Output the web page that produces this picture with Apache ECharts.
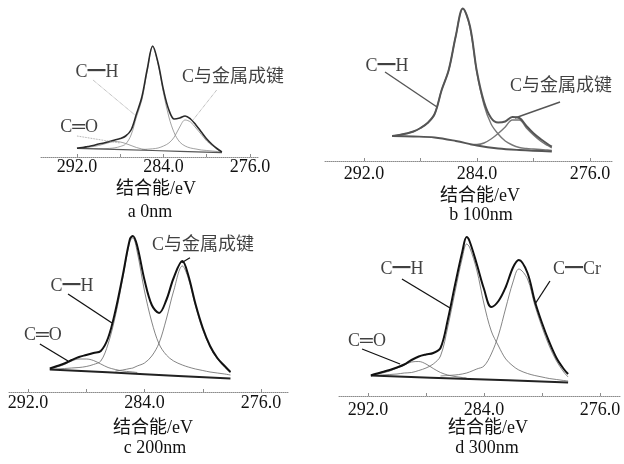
<!DOCTYPE html>
<html><head><meta charset="utf-8">
<script src="https://cdn.jsdelivr.net/npm/echarts@6/dist/echarts.min.js"></script>
<style>html,body{margin:0;padding:0;background:#fff}#c{width:624px;height:464px}</style>
</head><body><div id="c"></div>
<script>
// ---------- Data (binding energy in eV, intensity in arbitrary units) ----------
// Panel a: 0 nm
const energyA   = [292, 291.5, 291, 290.5, 290, 289.5, 289, 288.5, 288, 287.5, 287, 286.5, 286, 285.5, 285, 284.5, 284, 283.5, 283, 282.5, 282, 281.5, 281, 280.5, 280, 279.5, 279, 278.6];
const envelopeA = [8.7, 9.5, 10.5, 11.5, 13, 14, 15.5, 17, 18.5, 21, 27, 43, 60, 88, 111, 94, 67, 47, 38, 39, 41, 38, 32, 25, 18, 12.5, 8, 5];
const chA       = [8.7, 8.6, 8.5, 8.4, 8.3, 8.3, 8.6, 9.2, 10.5, 13, 22, 40, 57, 86, 110, 93, 64, 40, 24, 15, 11, 9, 8, 7, 6.5, 6, 5.5, 4.8];
const metalA    = [null, null, null, null, null, null, null, null, null, null, null, null, 7.5, 7.8, 8.2, 9, 11, 14, 20, 30, 37, 35, 29, 22.5, 16, 11.5, 7.5, 5];
const coA       = [8.7, 9, 9.7, 10.5, 11.5, 13, 14.5, 15.5, 15, 13.5, 11.5, 9.5, 8, 7.2, null, null, null, null, null, null, null, null, null, null, null, null, null, null];
const bgEnergyA = [292, 285, 278.6];
const bgA       = [8.7, 6.5, 4.3];

// Panel b: 100 nm
const energyB   = [290, 289.5, 289, 288.5, 288, 287.5, 287, 286.5, 286, 285.5, 285, 284.5, 284, 283.5, 283, 282.5, 282, 281.5, 281, 280.5, 280, 279.5, 279, 278.7];
const envelopeB = [25, 26, 27.5, 29.5, 33, 38, 47, 71, 91, 125, 152.5, 135, 89, 59, 43, 38.5, 39.5, 44, 43, 35, 27.7, 22, 17, 14.3];
const chB       = [25, 26, 27.5, 29.5, 33, 38, 47, 71, 91, 125, 152.5, 134, 88, 56, 37, 27, 20, 16, 13.5, 12.5, 12, 11.5, 11, 10.5];
const metalB    = [null, null, null, null, null, null, null, null, null, null, null, 16.5, 16.5, 18, 22, 27.5, 34, 41, 41, 33, 26, 20, 15.5, 13];
const bgEnergyB = [290, 288.5, 287, 285.5, 284, 282.5, 281, 278.7];
const bgB       = [25, 24.5, 23.5, 20, 15.5, 12.5, 11, 9.5];

// Panel c: 200 nm
const energyC   = [290.5, 290, 289.5, 289, 288.5, 288, 287.5, 287, 286.5, 286, 285.5, 285, 284.8, 284.5, 284, 283.5, 283, 282.5, 282, 281.4, 281, 280.5, 280, 279.5, 279, 278.5, 278.1];
const envelopeC = [23.5, 26, 28.5, 32, 35, 37, 39, 41, 54, 81, 116, 153, 156, 146, 112, 87, 79, 92, 114, 131, 117, 88, 64, 46, 34, 26, 20];
const chC       = [22.5, 23, 23.5, 24, 24.5, 25.5, 27.5, 31, 48, 76, 113, 151, 154, 140, 101, 70, 48, 37, 31, 27, 25, 23, 21.5, 20, 19, 18, 17];
const metalC    = [null, null, null, null, null, null, null, null, null, 21, 22, 23.5, 24, 26, 29, 36, 49, 73, 101, 126, 114, 86, 62, 45, 33, 25, 19.5];
const coC       = [23, 25, 27.5, 31, 33, 33, 31.5, 28, 24.5, 22.5, 21, 20.3, 20, 19.5, null, null, null, null, null, null, null, null, null, null, null, null, null];
const bgEnergyC = [290.5, 284, 278.1];
const bgC       = [22.5, 17.8, 13.5];

// Panel d: 300 nm
const energyD   = [291.8, 291.5, 291, 290.5, 290, 289.5, 289, 288.5, 288, 287.5, 287, 286.5, 286, 285.5, 285.2, 285, 284.5, 284, 283.5, 283, 282.5, 282, 281.6, 281, 280.5, 280, 279.5, 279, 278.5, 278.2];
const envelopeD = [20.5, 22, 24, 26, 28.5, 31.5, 36, 39.5, 41.5, 43, 48, 76, 111, 144, 159, 155, 132, 107, 89, 95, 109, 128.5, 136, 123, 95, 73, 54, 38, 27, 22];
const chD       = [20.5, 20.5, 21, 21.5, 22, 23, 23.5, 25.5, 28, 32, 40, 69, 104, 138, 152, 149, 126, 92, 65, 50, 37, 30, 26, 22.5, 20.5, 19, 17.5, 16.5, 15.5, 15];
const metalD    = [null, null, null, null, null, null, null, null, null, null, 20, 20.5, 21, 22, 23, 24, 27, 30, 42, 61, 88, 114, 127, 117, 91, 69, 50, 35, 24, 19];
const coD       = [20.5, 21.5, 23, 25, 28, 31, 34, 34.5, 32, 27.5, 23.5, 21, 19.5, 18.5, 18, null, null, null, null, null, null, null, null, null, null, null, null, null, null, null];
const bgEnergyD = [291.8, 285, 278.2];
const bgD       = [20.5, 17, 13.5];

// Axis ticks / texts
const tickValues  = [292, 288, 284, 280, 276];
const labelValues = [292, 284, 276];
const axisTitle   = '结合能/eV';
const panelTitles = ['a 0nm', 'b 100nm', 'c 200nm', 'd 300nm'];

// ---------- Layout & styles ----------
const FONT = "'Liberation Serif', 'Noto Sans CJK SC', serif";
const TEXT = '#111';
const panels = [
  { e: energyA, env: envelopeA, ch: chA, metal: metalA, co: coA, bgE: bgEnergyA, bg: bgA,
    grid: { left: 40, width: 218, top: 7, height: 150 }, xMin: 275.26, xMax: 295.42, yMax: 150, labelMargin: 1,
    title: [156, 189], sub: [150, 212],
    envStyle: { color: '#2a2a2a', width: 1.6 }, compStyle: { color: '#8a8a8a', width: 0.8, type: 'solid' },
    bgStyle: { color: '#555', width: 1.2 }, leadStyle: { color: '#8a8a8a', width: 0.8, type: 'dotted' },
    ann: [
      { t: 'C━H', at: [290.15, 85], from: [290.52, 77], to: [286.64, 42] },
      { t: 'C═O', at: [291.8, 30], from: [292, 21], to: [288.02, 14] },
      { t: 'C与金属成键', at: [277.57, 80], from: [279.08, 67], to: [281.27, 37] }
    ] },
  { e: energyB, env: envelopeB, ch: chB, metal: metalB, co: null, bgE: bgEnergyB, bg: bgB,
    grid: { left: 325, width: 287, top: 1, height: 160 }, xMin: 274.44, xMax: 294.76, yMax: 160, labelMargin: 4,
    title: [480, 196], sub: [481, 215],
    envStyle: { color: '#555', width: 2 }, compStyle: { color: '#777', width: 1.4, type: 'solid' },
    bgStyle: { color: '#555', width: 1.8 }, leadStyle: { color: '#555', width: 1.4, type: 'solid' },
    ann: [
      { t: 'C━H', at: [290.37, 95], from: [290.51, 89], to: [286.83, 54] },
      { t: 'C与金属成键', at: [278.05, 75], from: [278.12, 59], to: [281.31, 43] }
    ] },
  { e: energyC, env: envelopeC, ch: chC, metal: metalC, co: coC, bgE: bgEnergyC, bg: bgC,
    grid: { left: 8, width: 280, top: 232, height: 160 }, xMin: 274.15, xMax: 293.37, yMax: 160, labelMargin: 2,
    title: [153, 428], sub: [155, 448],
    envStyle: { color: '#111', width: 2 }, compStyle: { color: '#666', width: 0.8, type: 'solid' },
    bgStyle: { color: '#222', width: 2 }, leadStyle: { color: '#111', width: 1.3, type: 'solid' },
    ann: [
      { t: 'C与金属成键', at: [279.98, 147], from: [281.45, 129.3], to: [280.88, 134.3] },
      { t: 'C━H', at: [288.98, 106], from: [289.25, 98], to: [286.23, 69] },
      { t: 'C═O', at: [290.97, 57], from: [291.18, 48], to: [289.25, 31] }
    ] },
  { e: energyD, env: envelopeD, ch: chD, metal: metalD, co: coD, bgE: bgEnergyD, bg: bgD,
    grid: { left: 338, width: 282, top: 236, height: 160 }, xMin: 274.62, xMax: 294.07, yMax: 160, labelMargin: 5,
    title: [488, 428], sub: [487, 448],
    envStyle: { color: '#111', width: 2 }, compStyle: { color: '#666', width: 0.8, type: 'solid' },
    bgStyle: { color: '#222', width: 2 }, leadStyle: { color: '#111', width: 1.3, type: 'solid' },
    ann: [
      { t: 'C━H', at: [289.66, 126.5], from: [289.66, 117], to: [286.34, 88] },
      { t: 'C━Cr', at: [277.59, 126.5], from: [279.45, 115], to: [280.48, 92] },
      { t: 'C═O', at: [292.07, 55], from: [292.41, 47], to: [289.79, 32] }
    ] }
];

const zip = (xs, ys) => xs.map((x, i) => [x, ys[i]]).filter(p => p[1] !== null);

const grids = [], xAxes = [], yAxes = [], series = [], graphics = [];
panels.forEach((p, i) => {
  grids.push(Object.assign({ containLabel: false }, p.grid));
  xAxes.push({
    type: 'value', gridIndex: i, inverse: true, min: p.xMin, max: p.xMax,
    axisLine: { show: true, lineStyle: { color: '#8c8c8c', width: 1, type: 'dotted' } },
    axisTick: { show: true, inside: true, length: 3, customValues: tickValues, lineStyle: { color: '#8c8c8c' } },
    axisLabel: { show: true, customValues: labelValues, margin: p.labelMargin, color: TEXT,
      fontFamily: FONT, fontSize: 18, formatter: v => Number(v).toFixed(1) },
    splitLine: { show: false }
  });
  yAxes.push({ type: 'value', gridIndex: i, min: 0, max: p.yMax, show: false });
  const line = (data, style, z) => ({
    type: 'line', xAxisIndex: i, yAxisIndex: i, data, smooth: 0.35, symbol: 'none',
    lineStyle: Object.assign({}, style), z: z, silent: true
  });
  series.push(line(zip(p.bgE, p.bg), p.bgStyle, 3));
  series.push(line(zip(p.e, p.ch), p.compStyle, 2));
  series.push(line(zip(p.e, p.metal), p.compStyle, 2));
  if (p.co) series.push(line(zip(p.e, p.co), p.compStyle, 2));
  series.push(line(zip(p.e, p.env), p.envStyle, 4));
  p.ann.forEach(a => {
    series.push({ type: 'line', xAxisIndex: i, yAxisIndex: i, data: [a.from, a.to], symbol: 'none',
      lineStyle: Object.assign({}, p.leadStyle), z: 5, silent: true });
  });
  series.push({
    type: 'scatter', xAxisIndex: i, yAxisIndex: i, symbolSize: 1, silent: true, z: 6,
    itemStyle: { color: 'rgba(255,255,255,0)' },
    data: p.ann.map(a => ({ value: a.at, name: a.t })),
    label: { show: true, position: 'inside', formatter: d => d.name, color: TEXT,
      fontFamily: FONT, fontSize: 18 }
  });
  graphics.push({ type: 'text', x: p.title[0], y: p.title[1],
    style: { text: axisTitle, font: '18px ' + FONT, fill: TEXT, textAlign: 'center', textVerticalAlign: 'middle' } });
  graphics.push({ type: 'text', x: p.sub[0], y: p.sub[1],
    style: { text: panelTitles[i], font: '18px ' + FONT, fill: TEXT, textAlign: 'center', textVerticalAlign: 'middle' } });
});

const chart = echarts.init(document.getElementById('c'), null, { renderer: 'canvas' });
chart.setOption({
  backgroundColor: '#fff', animation: false,
  grid: grids, xAxis: xAxes, yAxis: yAxes, series, graphic: graphics
});
</script></body></html>
